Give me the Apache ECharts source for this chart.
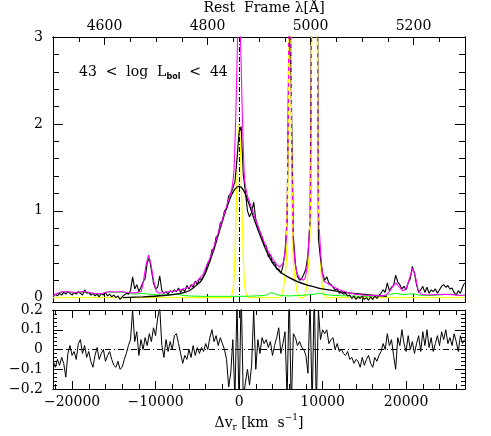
<!DOCTYPE html>
<html>
<head>
<meta charset="utf-8">
<script src="https://cdn.jsdelivr.net/npm/echarts@6.0.0/dist/echarts.min.js"></script>
<style>
  html, body { margin: 0; padding: 0; background: #fff; }
  #chart { width: 491px; height: 436px; }
</style>
</head>
<body>
<div id="chart"></div>
<script>
  // axis ranges: 4500-5300 A in the rest frame == dv around Hbeta
  const lamMin = 4500, lamMax = 5300;
  const velMin = -22283, velMax = 27052;

  const lamMajor = [4600, 4800, 5000, 5200];
  const lamMinor = [4550, 4600, 4650, 4700, 4750, 4800, 4850, 4900, 4950, 5000, 5050, 5100, 5150, 5200, 5250];
  const velMajor = [-20000, -10000, 0, 10000, 20000];
  const velMinor = [-22000, -20000, -18000, -16000, -14000, -12000, -10000, -8000, -6000, -4000, -2000, 0,
                    2000, 4000, 6000, 8000, 10000, 12000, 14000, 16000, 18000, 20000, 22000, 24000, 26000];
  const fluxMajor = [0, 1, 2, 3];
  const fluxMinor = [0.2, 0.4, 0.6, 0.8, 1.2, 1.4, 1.6, 1.8, 2.2, 2.4, 2.6, 2.8];

  // observed spectrum and residuals, sampled every 250 km/s from -22250
  const velStart = -22250, velStep = 250;
  const fluxObs = [
    0.01, 0.04, 0.02, 0.05, 0.03, 0.06, 0.04, 0.07, 0.05, 0.03,
    0.06, 0.04, 0.07, 0.05, 0.03, 0.09, 0.05, 0.06, 0.03, 0.05,
    0.02, 0.04, 0.01, 0.05, 0.03, 0.06, 0.02, 0.04, 0.01, 0.03,
    0.00, 0.02, -0.02, 0.01, 0.03, 0.05, 0.04, 0.08, 0.24, 0.10,
    0.15, 0.07, 0.12, 0.18, 0.22, 0.40, 0.46, 0.32, 0.17, 0.10,
    0.12, 0.25, 0.08, 0.05, 0.07, 0.04, 0.08, 0.06, 0.09, 0.07,
    0.11, 0.06, 0.10, 0.07, 0.14, 0.10, 0.15, 0.12, 0.19, 0.15,
    0.22, 0.21, 0.25, 0.30, 0.40, 0.42, 0.55, 0.56, 0.70, 0.72,
    0.86, 0.88, 1.00, 1.02, 1.17, 1.20, 1.26, 1.33, 1.60, 1.90,
    1.97, 1.42, 1.22, 1.00, 0.93, 0.98, 1.10, 0.90, 0.82, 0.76,
    0.70, 0.60, 0.60, 0.47, 0.50, 0.40, 0.41, 0.33, 0.33, 0.28,
    0.36, 0.52, 0.90, 3.30, 2.40, 0.70, 0.38, 0.24, 0.20, 0.22,
    0.27, 0.33, 0.50, 0.90, 4.50, 14.0, 7.50, 0.68, 0.45, 0.28,
    0.20, 0.24, 0.17, 0.15, 0.12, 0.09, 0.10, 0.05, 0.06, 0.04,
    0.05, 0.02, 0.03, -0.01, 0.02, -0.02, 0.01, -0.01, 0.02, -0.02,
    0.00, -0.03, 0.01, -0.02, 0.02, -0.01, 0.03, 0.05, 0.09, 0.06,
    0.17, 0.08, 0.12, 0.14, 0.26, 0.18, 0.15, 0.10, 0.13, 0.09,
    0.17, 0.22, 0.36, 0.28, 0.15, 0.06, 0.09, 0.13, 0.06, 0.12,
    0.05, 0.09, 0.07, 0.10, 0.05, 0.09, 0.13, 0.15, 0.12, 0.14,
    0.10, 0.11, 0.06, 0.03, 0.08, 0.05, 0.12, 0.17
  ];
  const residual = [
    -0.06, -0.09, -0.05, -0.08, -0.04, -0.07, -0.14, -0.02, 0.02, -0.03,
    -0.01, -0.05, 0.03, 0.05, -0.02, 0.02, -0.04, -0.01, -0.06, -0.09,
    -0.03, 0.01, -0.05, -0.02, 0.00, -0.06, -0.03, -0.01, -0.05, -0.08,
    -0.09, -0.06, -0.10, -0.09, -0.05, -0.02, 0.02, 0.05, 0.20, 0.04,
    0.09, -0.03, 0.05, 0.00, 0.06, 0.02, 0.08, 0.04, 0.11, 0.07,
    0.16, 0.21, 0.02, -0.04, 0.05, -0.01, 0.04, 0.00, 0.07, 0.08,
    0.03, -0.02, -0.07, -0.03, -0.05, 0.00, -0.04, 0.02, -0.03, 0.01,
    -0.02, 0.01, -0.01, 0.03, 0.00, 0.06, 0.10, 0.04, 0.07, 0.02,
    0.06, 0.03, 0.00, -0.05, -0.19, -0.12, 0.05, -0.25, 0.25, -0.30,
    0.30, -0.25, -0.17, -0.10, -0.18, -0.08, 0.20, -0.10, 0.05, -0.02,
    0.06, 0.03, 0.05, 0.01, 0.04, -0.03, 0.02, 0.06, 0.11, -0.02,
    0.03, 0.09, -0.25, 0.30, -0.30, 0.08, 0.06, 0.02, 0.04, 0.01,
    0.00, -0.03, -0.12, 0.25, -0.30, 0.30, -0.30, 0.20, 0.05, 0.10,
    0.08, 0.10, 0.03, 0.05, 0.06, 0.00, 0.03, -0.01, 0.00, -0.02,
    -0.03, -0.01, -0.05, -0.04, -0.07, -0.05, -0.06, -0.09, -0.04, -0.08,
    -0.05, -0.03, -0.07, -0.09, -0.04, -0.06, -0.03, -0.01, 0.03, 0.00,
    0.08, 0.02, 0.05, -0.03, -0.10, 0.06, 0.02, 0.10, 0.03, -0.01,
    0.07, 0.00, 0.04, -0.02, 0.03, 0.07, -0.01, 0.09, 0.02, 0.10,
    0.01, 0.06, -0.01, 0.03, 0.07, 0.02, 0.09, 0.05, 0.10, 0.03,
    0.06, 0.02, 0.08, 0.04, -0.01, 0.07, 0.03, 0.05
  ];

  // model components [dv, flux]
  const broadHb = [
    [-13900, 0], [-11500, 0.01], [-9000, 0.025], [-7500, 0.04], [-6500, 0.06], [-6000, 0.08],
    [-5500, 0.11], [-5000, 0.15], [-4500, 0.2], [-4000, 0.29], [-3500, 0.42], [-3000, 0.56],
    [-2500, 0.72], [-2000, 0.88], [-1500, 1.03], [-1000, 1.16], [-500, 1.25], [0, 1.28],
    [500, 1.24], [1000, 1.13], [1500, 0.99], [2000, 0.85], [2500, 0.72], [3000, 0.6],
    [3500, 0.49], [4000, 0.4], [4500, 0.34], [5000, 0.29], [6000, 0.23], [7000, 0.185],
    [8000, 0.15], [9000, 0.125], [10000, 0.1], [12000, 0.07], [14000, 0.045], [16000, 0.028],
    [17700, 0.015]
  ];
  const narrowLines = [
    [velMin, 0], [-1000, 0], [-800, 0.06], [-700, 0.12], [-600, 0.22], [-500, 0.48], [-400, 0.82],
    [-300, 1.2], [-200, 1.6], [-100, 1.88], [0, 2.0], [100, 1.88], [200, 1.6], [300, 1.2],
    [400, 0.82], [500, 0.48], [600, 0.22], [700, 0.12], [800, 0.06], [1000, 0],
    [4800, 0], [5080, 0.03], [5280, 0.1], [5480, 0.22], [5680, 0.45], [5780, 0.9], [5880, 1.6],
    [5980, 3.6], [6080, 5.0], [6180, 3.6], [6280, 1.6], [6380, 0.9], [6480, 0.45], [6680, 0.22],
    [6880, 0.1], [7080, 0.03], [7300, 0],
    [7700, 0], [7930, 0.04], [8130, 0.15], [8280, 0.36], [8430, 0.6], [8580, 0.95], [8730, 4],
    [8830, 8], [8930, 13], [9030, 15], [9130, 13], [9230, 8], [9330, 4], [9480, 0.95],
    [9630, 0.6], [9780, 0.36], [9930, 0.15], [10130, 0.04], [10400, 0], [velMax, 0]
  ];
  const feiiFlux = [
    [velMin, 0.015], [-21700, 0.045], [-21000, 0.065], [-20300, 0.06], [-19500, 0.055], [-18700, 0.065],
    [-17900, 0.055], [-17100, 0.04], [-16300, 0.045], [-15500, 0.065], [-14700, 0.06], [-14100, 0.065],
    [-13300, 0.05], [-12500, 0.04], [-11700, 0.05], [-10800, 0.04], [-9900, 0.035], [-9000, 0.03],
    [-8300, 0.035], [-7500, 0.04], [-6700, 0.025], [-6000, 0.02], [-4000, 0.015], [-2000, 0.015],
    [0, 0.015], [2000, 0.02], [3000, 0.025], [3600, 0.045], [3900, 0.06], [4200, 0.045], [5000, 0.025],
    [6000, 0.02], [7000, 0.025], [8000, 0.03], [9000, 0.04], [9700, 0.05], [10400, 0.035],
    [11500, 0.025], [13000, 0.02], [15000, 0.015], [17000, 0.02], [18000, 0.035], [18800, 0.05],
    [19500, 0.035], [20800, 0.045], [21500, 0.03], [23000, 0.025], [24500, 0.035], [25500, 0.04],
    [26200, 0.03], [velMax, 0.025]
  ];
  const totalFlux = [
    [velMin, 0.02], [-21760, 0.05], [-21120, 0.07], [-20320, 0.065], [-19510, 0.06], [-18760, 0.07],
    [-17920, 0.06], [-17110, 0.045], [-16360, 0.05], [-15520, 0.07], [-14710, 0.065], [-14110, 0.07],
    [-13360, 0.06], [-12520, 0.055], [-11710, 0.07], [-11440, 0.2], [-11140, 0.38], [-10840, 0.49],
    [-10540, 0.38], [-10240, 0.2], [-9910, 0.07], [-9520, 0.05], [-8320, 0.07], [-7510, 0.08],
    [-6720, 0.1], [-5920, 0.12], [-5120, 0.18], [-4300, 0.27], [-3800, 0.39], [-3500, 0.45],
    [-3000, 0.59], [-2700, 0.68], [-2300, 0.81], [-1900, 0.93], [-1500, 1.05], [-1000, 1.2],
    [-800, 1.29], [-700, 1.37], [-600, 1.48], [-500, 1.75], [-400, 2.1], [-300, 2.49], [-200, 2.9],
    [-100, 3.18], [0, 3.3], [100, 3.17], [200, 2.88], [300, 2.46], [400, 2.06], [500, 1.74],
    [600, 1.45], [700, 1.33], [800, 1.26], [1000, 1.17], [1500, 1.03], [2000, 0.89], [2500, 0.76],
    [3000, 0.64], [3500, 0.53], [4000, 0.45], [4500, 0.38], [4900, 0.35], [5080, 0.35], [5280, 0.4],
    [5480, 0.5], [5680, 0.72], [5780, 1.17], [5880, 1.86], [5980, 3.86], [6080, 5.25], [6180, 3.85],
    [6280, 1.85], [6380, 1.14], [6480, 0.67], [6680, 0.42], [6880, 0.3], [7080, 0.25], [7300, 0.22],
    [7500, 0.2], [7700, 0.2], [7930, 0.23], [8130, 0.34], [8280, 0.54], [8430, 0.78], [8580, 1.13],
    [8730, 4.17], [8830, 8.17], [8930, 13.17], [9030, 15.17], [9130, 13.16], [9230, 8.16], [9330, 4.16],
    [9480, 1.1], [9630, 0.75], [9780, 0.5], [9930, 0.3], [10130, 0.19], [10500, 0.17], [11000, 0.14],
    [12000, 0.09], [13000, 0.06], [14000, 0.04], [15000, 0.03], [16000, 0.025], [17000, 0.02],
    [17600, 0.03], [18000, 0.07], [18400, 0.13], [18800, 0.17], [19200, 0.12], [19600, 0.08],
    [20000, 0.1], [20400, 0.22], [20800, 0.34], [21100, 0.25], [21400, 0.1], [21800, 0.04],
    [22500, 0.03], [23500, 0.035], [24500, 0.04], [25500, 0.035], [26500, 0.025], [velMax, 0.03]
  ];

  const obsPairs = fluxObs.map((f, i) => [velStart + i * velStep, f]);
  const residPairs = residual.map((r, i) => [velStart + i * velStep, r]);
  // yellow dashes drawn over the [OIII] part of the total fit
  const oiiiOverlay = totalFlux.map(([v, f]) =>
    ((v > 5400 && v < 6800) || (v > 8300 && v < 9800)) && f > 0.6 ? [v, f] : [v, null]);

  const serif = 'DejaVu Serif';
  const black = '#000';

  function frameAxis(extra) {
    return Object.assign({
      type: 'value',
      axisLine: { show: true, onZero: false, lineStyle: { color: black, width: 1 } },
      splitLine: { show: false },
      axisLabel: { show: false },
      axisTick: { show: true, inside: true, length: 5, lineStyle: { color: black, width: 1 } }
    }, extra);
  }
  function ticks(values, len) {
    return { show: true, inside: true, length: len, customValues: values, lineStyle: { color: black, width: 1 } };
  }
  const numLabel = v => (v < 0 ? '\u2212' + Math.abs(v) : String(v));

  const chart = echarts.init(document.getElementById('chart'), null, { renderer: 'canvas' });
  chart.setOption({
    animation: false,
    backgroundColor: '#fff',
    grid: [
      { left: 53, top: 37, width: 412, height: 265 },
      { left: 53, top: 310, width: 412, height: 79 }
    ],
    xAxis: [
      { type: 'value', gridIndex: 0, min: velMin, max: velMax, show: false },
      frameAxis({ gridIndex: 0, position: 'top', min: lamMin, max: lamMax, axisTick: ticks(lamMajor, 8),
        axisLabel: { show: true, customValues: lamMajor, formatter: numLabel, margin: 4,
          color: black, fontFamily: serif, fontSize: 14 } }),
      frameAxis({ gridIndex: 0, position: 'top', min: lamMin, max: lamMax, axisTick: ticks(lamMinor, 5) }),
      frameAxis({ gridIndex: 0, position: 'bottom', min: lamMin, max: lamMax, axisTick: ticks(lamMajor, 8) }),
      frameAxis({ gridIndex: 0, position: 'bottom', min: lamMin, max: lamMax, axisTick: ticks(lamMinor, 5) }),
      frameAxis({ gridIndex: 1, position: 'bottom', min: velMin, max: velMax, axisTick: ticks(velMajor, 8),
        axisLabel: { show: true, customValues: velMajor, formatter: numLabel, margin: 6,
          color: black, fontFamily: serif, fontSize: 14 } }),
      frameAxis({ gridIndex: 1, position: 'bottom', min: velMin, max: velMax, axisTick: ticks(velMinor, 5) }),
      frameAxis({ gridIndex: 1, position: 'top', min: velMin, max: velMax, axisTick: ticks(velMajor, 8) }),
      frameAxis({ gridIndex: 1, position: 'top', min: velMin, max: velMax, axisTick: ticks(velMinor, 5) })
    ],
    yAxis: [
      frameAxis({ gridIndex: 0, position: 'left', min: -0.05, max: 3, axisTick: ticks(fluxMajor, 10),
        axisLabel: { show: true, customValues: fluxMajor, formatter: numLabel, margin: 10,
          color: black, fontFamily: serif, fontSize: 14 } }),
      frameAxis({ gridIndex: 0, position: 'left', min: -0.05, max: 3, axisTick: ticks(fluxMinor, 6) }),
      frameAxis({ gridIndex: 0, position: 'right', min: -0.05, max: 3, axisTick: ticks(fluxMajor, 10) }),
      frameAxis({ gridIndex: 0, position: 'right', min: -0.05, max: 3, axisTick: ticks(fluxMinor, 6) }),
      frameAxis({ gridIndex: 1, position: 'left', min: -0.2, max: 0.2, interval: 0.1,
        axisTick: { show: true, inside: true, length: 10, lineStyle: { color: black } },
        minorTick: { show: true, splitNumber: 5, length: 4, lineStyle: { color: black } },
        axisLabel: { show: true, margin: 10, color: black, fontFamily: serif, fontSize: 14,
          formatter: v => numLabel(+v.toFixed(1)) } }),
      frameAxis({ gridIndex: 1, position: 'right', min: -0.2, max: 0.2, interval: 0.1,
        axisTick: { show: true, inside: true, length: 10, lineStyle: { color: black } },
        minorTick: { show: true, splitNumber: 5, length: 4, lineStyle: { color: black } } })
    ],
    series: [
      { name: 'narrow', type: 'line', xAxisIndex: 0, yAxisIndex: 0, data: narrowLines,
        symbol: 'none', lineStyle: { color: '#ffff00', width: 1.3 } },
      { name: 'FeII', type: 'line', xAxisIndex: 0, yAxisIndex: 0, data: feiiFlux, smooth: 0.3,
        symbol: 'none', lineStyle: { color: '#00ff00', width: 1 } },
      { name: 'observed', type: 'line', xAxisIndex: 0, yAxisIndex: 0, data: obsPairs,
        symbol: 'none', lineStyle: { color: black, width: 1.1 } },
      { name: 'broad', type: 'line', xAxisIndex: 0, yAxisIndex: 0, data: broadHb, smooth: 0.3,
        symbol: 'none', lineStyle: { color: black, width: 1.3 } },
      { name: 'total', type: 'line', xAxisIndex: 0, yAxisIndex: 0, data: totalFlux,
        symbol: 'none', lineStyle: { color: '#ff00ff', width: 1.1 } },
      { name: 'oiii', type: 'line', xAxisIndex: 0, yAxisIndex: 0, data: oiiiOverlay,
        symbol: 'none', connectNulls: false, lineStyle: { color: '#ffff00', width: 1.3, type: [4, 4] },
        markLine: { silent: true, symbol: 'none', label: { show: false },
          lineStyle: { color: black, width: 1, type: [5, 2, 1, 2] }, data: [{ xAxis: 0 }] } },
      { name: 'residual', type: 'line', xAxisIndex: 5, yAxisIndex: 4, data: residPairs,
        symbol: 'none', lineStyle: { color: black, width: 1 },
        markLine: { silent: true, symbol: 'none', label: { show: false },
          lineStyle: { color: black, width: 1, type: [6, 3, 1, 3] }, data: [{ yAxis: 0 }] } }
    ],
    graphic: [
      { type: 'text', x: 264, y: 8, silent: true,
        style: { text: 'Rest  Frame λ[Å]', fill: black, font: '14px "DejaVu Serif"',
          align: 'center', verticalAlign: 'middle' } },
      { type: 'text', x: 79, y: 72, silent: true,
        style: { text: '{m|43  <  log  L}{b|bol}{m|  <  44}', fill: black, align: 'left', verticalAlign: 'middle',
          rich: {
            m: { fontFamily: serif, fontSize: 14, lineHeight: 17, fill: black },
            b: { fontFamily: 'DejaVu Sans', fontSize: 8, fontWeight: 'bold', lineHeight: 9, verticalAlign: 'bottom', fill: black }
          } } },
      { type: 'text', x: 259, y: 423, silent: true,
        style: { text: '{m|Δv}{r|r}{m| [km  s}{s|\u22121}{m|]}', fill: black, align: 'center', verticalAlign: 'middle',
          rich: {
            m: { fontFamily: serif, fontSize: 14, lineHeight: 19, fill: black },
            r: { fontFamily: serif, fontSize: 9, lineHeight: 10, verticalAlign: 'bottom', fill: black },
            s: { fontFamily: serif, fontSize: 9, lineHeight: 10, verticalAlign: 'top', fill: black }
          } } }
    ]
  });
</script>
</body>
</html>
